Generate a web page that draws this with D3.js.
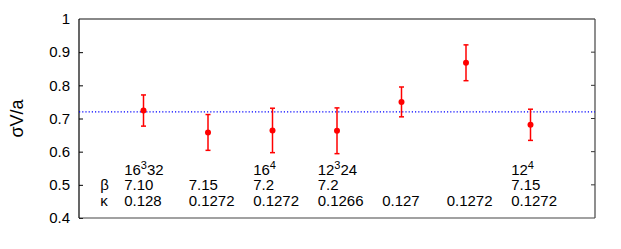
<!DOCTYPE html>
<html>
<head>
<meta charset="utf-8">
<script src="https://cdn.jsdelivr.net/npm/d3@7"></script>
<style>
  body { margin: 0; background: #fff; }
  text { font-family: "Liberation Sans", Arial, sans-serif; }
</style>
</head>
<body>
<div id="chart"></div>
<script>
// Data
var xs = [1, 2, 3, 4, 5, 6, 7];
var values = [0.724, 0.658, 0.664, 0.663, 0.750, 0.868, 0.681];
var errors = [0.047, 0.054, 0.067, 0.069, 0.045, 0.054, 0.047];
var refLine = 0.72;
var yTicks = [0.4, 0.5, 0.6, 0.7, 0.8, 0.9, 1];

// Table labels under the points: [base, sup, rest]
var lattices = [["16", "3", "32"], null, ["16", "4", ""], ["12", "3", "24"], null, null, ["12", "4", ""]];
var betas = ["7.10", "7.15", "7.2", "7.2", "", "", "7.15"];
var kappas = ["0.128", "0.1272", "0.1272", "0.1266", "0.127", "0.1272", "0.1272"];

// Chart dimensions
var w = 621;
var h = 249;
var plotLeft = 79, plotRight = 595, plotTop = 19, plotBottom = 218;

var svg = d3
  .select("#chart")
  .append("svg")
  .attr("width", w)
  .attr("height", h);

// Scales
var xScale = d3.scaleLinear().domain([0, 8]).range([plotLeft, plotRight]);
var yScale = d3.scaleLinear().domain([0.4, 1]).range([plotBottom, plotTop]);

// Left axis with inward ticks
var yAxis = d3
  .axisLeft(yScale)
  .tickValues(yTicks)
  .tickFormat(function (d) { return d === 1 ? "1" : d3.format(".1f")(d); })
  .tickSizeInner(-4)
  .tickSizeOuter(0)
  .tickPadding(9);

var gy = svg.append("g").attr("transform", "translate(" + plotLeft + ",0)").call(yAxis);
gy.select(".domain").remove();
gy.selectAll("text").attr("font-size", 15).attr("fill", "#000")
  .style("font-family", "Liberation Sans, Arial, sans-serif");
gy.selectAll("line").attr("stroke", "#000");

// Right side inward ticks
svg.selectAll(".rtick")
  .data(yTicks.slice(1, -1))
  .enter()
  .append("line")
  .attr("x1", plotRight - 4)
  .attr("x2", plotRight)
  .attr("y1", function (d) { return yScale(d); })
  .attr("y2", function (d) { return yScale(d); })
  .attr("stroke", "#333");

// Frame
svg.append("line").attr("x1", plotLeft).attr("x2", plotRight).attr("y1", plotTop).attr("y2", plotTop)
  .attr("stroke", "#888").attr("stroke-width", 2);
svg.append("line").attr("x1", plotRight).attr("x2", plotRight).attr("y1", plotTop).attr("y2", plotBottom)
  .attr("stroke", "#444").attr("stroke-width", 1.2);
svg.append("line").attr("x1", plotLeft).attr("x2", plotRight).attr("y1", plotBottom).attr("y2", plotBottom)
  .attr("stroke", "#444").attr("stroke-width", 1.2);
svg.append("line").attr("x1", plotLeft).attr("x2", plotLeft).attr("y1", plotTop).attr("y2", plotBottom)
  .attr("stroke", "#000").attr("stroke-width", 1.2);

// Reference line
svg.append("line")
  .attr("x1", plotLeft).attr("x2", plotRight)
  .attr("y1", yScale(refLine)).attr("y2", yScale(refLine))
  .attr("stroke", "#0000ff")
  .attr("stroke-width", 1.3)
  .attr("stroke-dasharray", "1.2,2");

// Error bars
var pts = svg.selectAll(".pt")
  .data(values)
  .enter()
  .append("g")
  .attr("class", "pt");

pts.append("line")
  .attr("x1", function (d, i) { return xScale(xs[i]); })
  .attr("x2", function (d, i) { return xScale(xs[i]); })
  .attr("y1", function (d, i) { return yScale(d - errors[i]); })
  .attr("y2", function (d, i) { return yScale(d + errors[i]); })
  .attr("stroke", "#ff0000").attr("stroke-width", 1.5);

[-1, 1].forEach(function (s) {
  pts.append("line")
    .attr("x1", function (d, i) { return xScale(xs[i]) - 2.5; })
    .attr("x2", function (d, i) { return xScale(xs[i]) + 2.5; })
    .attr("y1", function (d, i) { return yScale(d + s * errors[i]); })
    .attr("y2", function (d, i) { return yScale(d + s * errors[i]); })
    .attr("stroke", "#ff0000").attr("stroke-width", 1.5);
});

pts.append("circle")
  .attr("cx", function (d, i) { return xScale(xs[i]); })
  .attr("cy", function (d) { return yScale(d); })
  .attr("r", 3)
  .attr("fill", "#ff0000");

// Table text
var rowLat = 175, rowBeta = 190, rowKappa = 206;
var fs = 15;

svg.append("text").attr("x", xScale(0.33)).attr("y", rowBeta).attr("font-size", fs).text("β");
svg.append("text").attr("x", xScale(0.33)).attr("y", rowKappa).attr("font-size", fs).text("κ");

lattices.forEach(function (l, i) {
  if (!l) return;
  var t = svg.append("text")
    .attr("x", xScale(xs[i] - 0.3))
    .attr("y", rowLat)
    .attr("font-size", fs);
  t.append("tspan").text(l[0]);
  t.append("tspan").attr("font-size", 11).attr("dy", -6).text(l[1]);
  if (l[2]) t.append("tspan").attr("dy", 6).text(l[2]);
});

svg.selectAll(".beta")
  .data(betas)
  .enter()
  .append("text")
  .attr("x", function (d, i) { return xScale(xs[i] - 0.3); })
  .attr("y", rowBeta)
  .attr("font-size", fs)
  .text(function (d) { return d; });

svg.selectAll(".kappa")
  .data(kappas)
  .enter()
  .append("text")
  .attr("x", function (d, i) { return xScale(xs[i] - 0.3); })
  .attr("y", rowKappa)
  .attr("font-size", fs)
  .text(function (d) { return d; });

// Y label
svg.append("text")
  .attr("transform", "translate(23," + (plotTop + plotBottom) / 2 + ") rotate(-90)")
  .attr("text-anchor", "middle")
  .attr("font-size", 18)
  .text("σV/a");
</script>
</body>
</html>
